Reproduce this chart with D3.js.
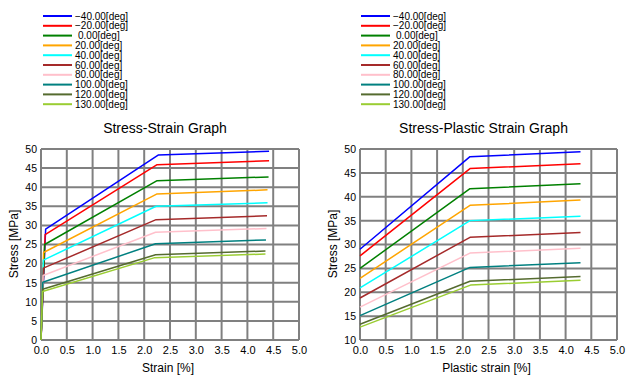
<!DOCTYPE html>
<html><head><meta charset="utf-8">
<script src="https://cdn.jsdelivr.net/npm/d3@7/dist/d3.min.js"></script>
<style>
html,body{margin:0;padding:0;background:#fff;}
text{font-family:"Liberation Sans","DejaVu Sans",sans-serif;fill:#000;}
</style></head><body>
<svg id="c" width="632" height="382"></svg>
<script>
const labels = ["-40.00[deg]","-20.00[deg]"," 0.00[deg]","20.00[deg]","40.00[deg]","60.00[deg]","80.00[deg]","100.00[deg]","120.00[deg]","130.00[deg]"];
const colors = ["#0000ff","#ff0000","#008000","#ffa500","#00ffff","#a52a2a","#ffc0cb","#008080","#556b2f","#9acd32"];
const yieldStress = [29.0, 27.6, 25.0, 22.9, 20.9, 18.8, 16.9, 15.1, 13.3, 12.7];
const breakStress = [48.4, 45.9, 41.7, 38.2, 35.0, 31.5, 28.2, 25.2, 22.3, 21.5];
const endStress   = [49.4, 46.9, 42.7, 39.3, 35.9, 32.5, 29.2, 26.2, 23.3, 22.5];
const yieldStrain = [0.09, 0.08, 0.07, 0.05, 0.045, 0.045, 0.04, 0.035, 0.032, 0.03];
const breakStrain = [2.27, 2.25, 2.25, 2.24, 2.23, 2.23, 2.22, 2.22, 2.22, 2.19];
const endStrain   = [4.42, 4.42, 4.41, 4.39, 4.39, 4.38, 4.37, 4.36, 4.35, 4.35];
const plasticBreak = [2.14, 2.14, 2.14, 2.14, 2.14, 2.14, 2.14, 2.14, 2.14, 2.15];
const plasticEnd   = [4.29, 4.29, 4.29, 4.29, 4.29, 4.29, 4.29, 4.29, 4.29, 4.29];
const xTicks = [0,0.5,1,1.5,2,2.5,3,3.5,4,4.5,5];
const yTicksLeft = [0,5,10,15,20,25,30,35,40,45,50];
const yTicksRight = [10,15,20,25,30,35,40,45,50];

const svg = d3.select("#c");

function legend(x0){
  const g = svg.append("g");
  labels.forEach((l,i)=>{
    const y = 16 + i*9.8;
    g.append("line").attr("x1",x0).attr("x2",x0+29).attr("y1",y).attr("y2",y)
      .attr("stroke",colors[i]).attr("stroke-width",2);
    g.append("text").attr("x",x0+32 + (l.startsWith(" ")?3:0)).attr("y",y).attr("dy","0.36em")
      .attr("font-size","10px").text(l.replace("-","\u2212").trim());
  });
}

function chart(cfg){
  const x = d3.scaleLinear().domain([0,5]).range([cfg.x0,cfg.x1]);
  const y = d3.scaleLinear().domain(cfg.ydom).range([340,149]);
  const g = svg.append("g");
  g.selectAll(".vg").data(xTicks).enter().append("line")
    .attr("x1",d=>x(d)).attr("x2",d=>x(d)).attr("y1",149).attr("y2",340)
    .attr("stroke","#808080").attr("stroke-width",2);
  g.selectAll(".hg").data(cfg.yticks).enter().append("line")
    .attr("y1",d=>y(d)).attr("y2",d=>y(d)).attr("x1",cfg.x0).attr("x2",cfg.x1)
    .attr("stroke","#808080").attr("stroke-width",2);
  const ax = g.append("g").attr("transform","translate(0,340)")
    .call(d3.axisBottom(x).tickValues(xTicks).tickFormat(d3.format(".1f")).tickSize(0).tickPadding(6));
  ax.select(".domain").remove();
  ax.selectAll("text").attr("font-size","11px").attr("font-family","Liberation Sans, DejaVu Sans, sans-serif").attr("fill","#000");
  const ay = g.append("g").attr("transform",`translate(${cfg.x0},0)`)
    .call(d3.axisLeft(y).tickValues(cfg.yticks).tickFormat(d3.format("d")).tickSize(0).tickPadding(4));
  ay.select(".domain").remove();
  ay.selectAll("text").attr("font-size","10.5px").attr("font-family","Liberation Sans, DejaVu Sans, sans-serif").attr("fill","#000");
  const line = d3.line().x(d=>x(d[0])).y(d=>y(d[1]));
  cfg.series.forEach((s,i)=>{
    g.append("path").attr("d",line(s)).attr("fill","none")
      .attr("stroke",colors[i]).attr("stroke-width",1.5).attr("stroke-linejoin","round");
  });
  g.append("text").attr("x",(cfg.x0+cfg.x1)/2 + cfg.tdx).attr("y",128).attr("dy","0.36em")
    .attr("text-anchor","middle").attr("font-size","14px").text(cfg.title);
  g.append("text").attr("x",(cfg.x0+cfg.x1)/2 - 2).attr("y",368).attr("dy","0.36em")
    .attr("text-anchor","middle").attr("font-size","12px").text(cfg.xlabel);
  g.append("text").attr("transform",`translate(${cfg.x0-27},244) rotate(-90)`).attr("dy","0.36em")
    .attr("text-anchor","middle").attr("font-size","12px").text("Stress [MPa]");
}

legend(43);
legend(361);

chart({x0:41,x1:299,ydom:[0,50],yticks:yTicksLeft,title:"Stress-Strain Graph",tdx:-5,xlabel:"Strain [%]",
  series: labels.map((_,i)=>[[0,0],[yieldStrain[i],yieldStress[i]],[breakStrain[i],breakStress[i]],[endStrain[i],endStress[i]]])});
chart({x0:360,x1:617,ydom:[10,50],yticks:yTicksRight,title:"Stress-Plastic Strain Graph",tdx:-5,xlabel:"Plastic strain [%]",
  series: labels.map((_,i)=>[[0,yieldStress[i]],[plasticBreak[i],breakStress[i]],[plasticEnd[i],endStress[i]]])});
</script>
</body></html>
